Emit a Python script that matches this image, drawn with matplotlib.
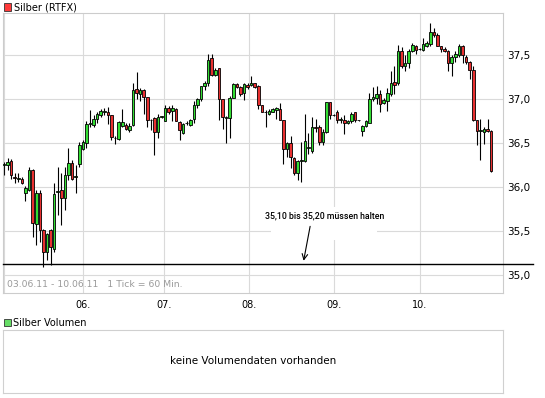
import matplotlib
matplotlib.use("Agg")
import matplotlib.pyplot as plt
from matplotlib.patches import Rectangle
from matplotlib.ticker import FuncFormatter
import numpy as np

# stuendliche Kerzen Silber (RTFX), 03.06.11 - 10.06.11
opens = [36.25, 36.25, 36.30, 36.12, 36.10, 36.10, 35.94, 35.97, 36.20, 35.58,
         35.94, 35.52, 35.26, 35.52, 35.30, 35.95, 35.97, 35.88, 36.14, 36.28,
         36.12, 36.27, 36.44, 36.50, 36.72, 36.71, 36.78, 36.82, 36.86, 36.85,
         36.82, 36.56, 36.55, 36.70, 36.71, 36.65, 36.71, 37.12, 37.06, 37.10,
         37.03, 36.76, 36.79, 36.63, 36.80, 36.75, 36.90, 36.87, 36.89, 36.74,
         36.62, 36.73, 36.71, 36.78, 36.94, 37.00, 37.15, 37.19, 37.47, 37.28,
         37.35, 37.00, 36.79, 36.79, 37.02, 37.17, 37.14, 37.07, 37.16, 37.16,
         37.18, 37.15, 36.93, 36.85, 36.83, 36.86, 36.88, 36.89, 36.76, 36.44,
         36.50, 36.33, 36.16, 36.30, 36.30, 36.45, 36.41, 36.69, 36.69, 36.52,
         36.63, 36.97, 36.82, 36.85, 36.77, 36.77, 36.73, 36.75, 36.85, 36.76,
         36.64, 36.70, 36.73, 37.00, 37.02, 37.06, 36.96, 36.98, 37.06, 37.20,
         37.18, 37.55, 37.38, 37.41, 37.55, 37.61, 37.57, 37.56, 37.61, 37.63,
         37.76, 37.73, 37.60, 37.57, 37.55, 37.41, 37.48, 37.50, 37.60, 37.48,
         37.42, 37.33, 36.76, 36.64, 36.63, 36.66, 36.64]
highs = [36.29, 36.33, 36.32, 36.16, 36.16, 36.12, 36.02, 36.23, 36.21, 35.97,
         35.97, 35.53, 35.48, 35.53, 36.05, 36.23, 36.16, 36.23, 36.45, 36.31,
         36.25, 36.52, 36.54, 36.75, 36.88, 36.82, 36.86, 36.89, 36.90, 36.91,
         36.82, 36.58, 36.75, 36.89, 36.73, 36.73, 37.19, 37.31, 37.13, 37.12,
         37.03, 36.78, 36.80, 36.83, 36.81, 36.94, 36.92, 36.93, 36.90, 36.75,
         36.73, 36.75, 36.78, 36.98, 37.01, 37.15, 37.21, 37.52, 37.52, 37.35,
         37.35, 37.00, 36.81, 37.04, 37.19, 37.19, 37.15, 37.19, 37.18, 37.27,
         37.19, 37.16, 36.94, 36.88, 36.89, 36.90, 36.91, 36.96, 36.77, 36.51,
         36.58, 36.35, 36.31, 36.51, 36.83, 36.62, 36.80, 36.78, 36.71, 36.66,
         36.97, 36.97, 36.83, 36.88, 36.80, 36.82, 36.76, 36.85, 36.86, 36.77,
         36.71, 36.76, 37.07, 37.14, 37.15, 37.11, 37.02, 37.13, 37.32, 37.38,
         37.62, 37.59, 37.50, 37.57, 37.64, 37.62, 37.58, 37.70, 37.66, 37.87,
         37.81, 37.75, 37.61, 37.59, 37.56, 37.50, 37.55, 37.63, 37.62, 37.50,
         37.44, 37.38, 36.76, 36.78, 36.69, 36.78, 36.65]
lows = [36.14, 36.20, 36.10, 36.05, 36.06, 36.04, 35.84, 35.96, 35.44, 35.34,
        35.38, 35.10, 35.17, 35.12, 35.27, 35.69, 35.57, 35.74, 36.08, 36.08,
        35.94, 36.23, 36.42, 36.45, 36.69, 36.69, 36.73, 36.80, 36.82, 36.72,
        36.54, 36.49, 36.54, 36.68, 36.65, 36.63, 36.70, 37.00, 36.98, 36.83,
        36.69, 36.65, 36.37, 36.56, 36.79, 36.75, 36.83, 36.75, 36.75, 36.54,
        36.61, 36.71, 36.70, 36.73, 36.90, 36.98, 37.10, 37.15, 37.27, 37.27,
        36.77, 36.66, 36.50, 36.56, 37.01, 37.13, 37.04, 36.99, 37.12, 37.15,
        37.13, 36.89, 36.85, 36.69, 36.82, 36.85, 36.78, 36.76, 36.27, 36.35,
        36.22, 36.14, 36.08, 36.06, 36.29, 36.38, 36.39, 36.63, 36.48, 36.48,
        36.62, 36.78, 36.81, 36.73, 36.73, 36.61, 36.72, 36.73, 36.74, 36.75,
        36.58, 36.69, 36.73, 36.98, 36.95, 36.86, 36.95, 36.87, 37.04, 37.06,
        37.16, 37.36, 37.32, 37.36, 37.54, 37.52, 37.56, 37.55, 37.59, 37.61,
        37.71, 37.60, 37.54, 37.54, 37.32, 37.27, 37.42, 37.48, 37.41, 37.40,
        37.23, 36.75, 36.48, 36.31, 36.49, 36.63, 36.17]
closes = [36.26, 36.29, 36.14, 36.11, 36.10, 36.05, 35.99, 36.20, 35.59, 35.94,
          35.52, 35.26, 35.47, 35.32, 35.92, 35.96, 35.88, 36.14, 36.28, 36.09,
          36.13, 36.48, 36.52, 36.72, 36.73, 36.78, 36.83, 36.87, 36.86, 36.82,
          36.57, 36.56, 36.74, 36.74, 36.66, 36.70, 37.10, 37.07, 37.10, 37.03,
          36.76, 36.77, 36.63, 36.80, 36.80, 36.90, 36.85, 36.90, 36.75, 36.65,
          36.72, 36.73, 36.77, 36.94, 37.00, 37.15, 37.19, 37.45, 37.28, 37.33,
          37.00, 36.80, 36.79, 37.02, 37.17, 37.14, 37.06, 37.17, 37.14, 37.18,
          37.14, 36.93, 36.86, 36.86, 36.87, 36.89, 36.90, 36.76, 36.43, 36.50,
          36.35, 36.16, 36.30, 36.31, 36.53, 36.46, 36.68, 36.67, 36.52, 36.63,
          36.97, 36.82, 36.82, 36.77, 36.77, 36.73, 36.75, 36.83, 36.76, 36.76,
          36.70, 36.75, 37.00, 37.03, 37.06, 36.95, 36.99, 37.07, 37.19, 37.16,
          37.55, 37.38, 37.41, 37.55, 37.62, 37.56, 37.57, 37.63, 37.64, 37.76,
          37.73, 37.61, 37.57, 37.55, 37.41, 37.48, 37.52, 37.60, 37.50, 37.42,
          37.33, 36.76, 36.64, 36.64, 36.66, 36.64, 36.19]

day_pos = [22.05, 44.65, 68.4, 92.1, 116.1]
day_labels = ["06.", "07.", "08.", "09.", "10."]
y_ticks = [35.0, 35.5, 36.0, 36.5, 37.0, 37.5]
support = 35.13

W, H = 545, 398
fig = plt.figure(figsize=(W / 100, H / 100), dpi=100)
plt.rcParams['font.family'] = 'DejaVu Sans'


def fx(px):
    return px / W


def fy(py):
    return 1 - py / H


grid_c = '#dadada'

# Hauptchart
ax = fig.add_axes([fx(3), fy(293), fx(503) - fx(3), fy(13) - fy(293)])
x = np.arange(len(opens))
o = np.array(opens)
c = np.array(closes)
up = c >= o
colors = np.where(up, '#33dd33', '#e83030')
ax.vlines(x, lows, highs, color='black', lw=0.8, zorder=2)
bottom = np.minimum(o, c)
height = np.maximum(np.abs(c - o), 0.006)
ax.bar(x, height, bottom=bottom, width=0.72, color=colors,
       edgecolor='black', linewidth=0.6, zorder=3)

ax.set_xlim(-0.28, 139.3)
ax.set_ylim(34.80, 37.98)
ax.set_axisbelow(True)
ax.set_xticks(day_pos)
ax.set_xticklabels(day_labels)
ax.set_yticks(y_ticks)
ax.yaxis.set_major_formatter(FuncFormatter(lambda v, p: f"{v:.1f}".replace('.', ',')))
ax.yaxis.tick_right()
ax.grid(color=grid_c, lw=0.8)
ax.axvline(0.1, color=grid_c, lw=0.8, zorder=0.5)
ax.tick_params(axis='y', length=0, pad=3, labelsize=7.5)
ax.tick_params(axis='x', length=0, pad=5, labelsize=7)
for s in ax.spines.values():
    s.set_color('#cccccc')
    s.set_linewidth(0.8)

# Unterstuetzungslinie + Kommentar
ax.axhline(support, xmin=0, xmax=(533 - 3) / 500, color='black', lw=1.0,
           clip_on=False, zorder=4)
ax.add_patch(Rectangle((74.5, 35.40), 29.6, 0.376, facecolor='white',
                       edgecolor='none', zorder=1))
ax.text(89.45, 35.674, "35,10 bis 35,20 müssen halten", ha='center', va='center',
        fontsize=6.3, family=['Roboto', 'DejaVu Sans'], weight='medium', zorder=5)
ax.annotate("", xy=(83.5, 35.135), xytext=(85.6, 35.588),
            arrowprops=dict(arrowstyle='->', lw=0.8, color='black', mutation_scale=10),
            zorder=5)
ax.text(0.008, 0.029, "03.06.11 - 10.06.11   1 Tick = 60 Min.", transform=ax.transAxes,
        ha='left', va='center', fontsize=6.7, color='#999999')

# Legende oben
fig.add_artist(Rectangle((fx(3.5), fy(10.5)), 7.5 / W, 7.5 / H, transform=fig.transFigure,
                         facecolor='#ff3a3a', edgecolor='#333333', lw=0.6))
fig.text(fx(14), fy(7), "Silber (RTFX)", ha='left', va='center', fontsize=7)

# Volumen-Panel
ax2 = fig.add_axes([fx(3), fy(392.5), fx(503) - fx(3), fy(330) - fy(392.5)])
ax2.set_xticks([])
ax2.set_yticks([])
for s in ax2.spines.values():
    s.set_color('#d0d0d0')
    s.set_linewidth(0.8)
ax2.text(0.5, 0.5, "keine Volumendaten vorhanden", transform=ax2.transAxes,
         ha='center', va='center', fontsize=7.5)
fig.add_artist(Rectangle((fx(3.5), fy(326)), 7 / W, 7 / H, transform=fig.transFigure,
                         facecolor='#66dd66', edgecolor='#333333', lw=0.6))
fig.text(fx(13), fy(322.5), "Silber Volumen", ha='left', va='center', fontsize=7)

fig.savefig("out.png", dpi=100)
